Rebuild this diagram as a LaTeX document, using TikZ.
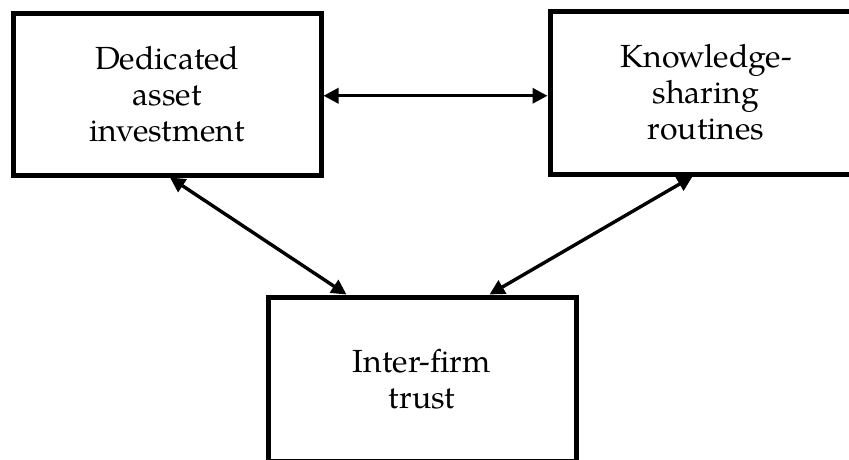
\documentclass[tikz,border=0pt]{standalone}
\usepackage{fontspec}
\setmainfont{TeX Gyre Pagella}
\usetikzlibrary{arrows.meta}
\begin{document}
\begin{tikzpicture}[x=1pt,y=-1pt,
  box/.style={draw, line width=5pt, inner sep=0pt, align=center,
    font=\fontsize{32}{36}\selectfont},
  link/.style={line width=3.4pt,
    {Triangle[length=15pt,width=15pt]}-{Triangle[length=15pt,width=15pt]}}]
\useasboundingbox (0,0) rectangle (849,459);
\clip (0,0) rectangle (849,459);
\node[box, minimum width=307.5pt, minimum height=161.5pt] (dai) at (167.25,94.25)
  {Dedicated\\asset\\investment};
\node[box, minimum width=312pt, minimum height=163pt] (ksr) at (706,92.5)
  {Knowledge-\\sharing\\routines};
\node[box, minimum width=308pt, minimum height=164pt] (ift) at (422,379)
  {Inter-firm\\trust};
\draw[link] ([yshift=-1.5pt]dai.east) -- ([yshift=-1.5pt]dai.east -| ksr.west);
\draw[link] ([xshift=159pt]dai.south west) -- ([xshift=81pt]ift.north west);
\draw[link] ([xshift=145pt]ksr.south west) -- ([xshift=224pt]ift.north west);
\end{tikzpicture}
\end{document}
